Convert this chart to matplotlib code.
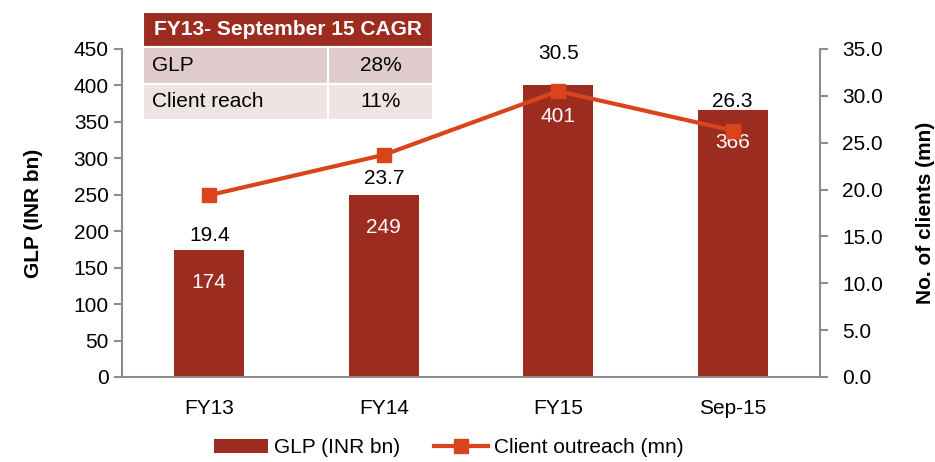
import matplotlib.pyplot as plt
from matplotlib.patches import Rectangle
from matplotlib.lines import Line2D
from matplotlib.patches import Patch

plt.rcParams['font.family'] = ['Liberation Sans Narrow', 'Liberation Sans', 'DejaVu Sans']

categories = ["FY13", "FY14", "FY15", "Sep-15"]
glp = [174, 249, 401, 366]
clients = [19.4, 23.7, 30.5, 26.3]
cagr_title = "FY13- September 15 CAGR"
cagr_rows = ["GLP", "Client reach"]
cagr_vals = ["28%", "11%"]

bar_color = "#9B2C1F"
line_color = "#D9441A"
axis_gray = "#8C8C8C"
fs = 15

fig = plt.figure(figsize=(9.35, 4.62), dpi=100)
ax = fig.add_axes([0.1305, 0.184, 0.7465, 0.710])
ax2 = ax.twinx()

x = list(range(len(categories)))
bars = ax.bar(x, glp, width=0.4, color=bar_color, zorder=2)
ax.set_xlim(-0.5, len(categories) - 0.5)
ax.set_ylim(0, 450)
ax.set_yticks(range(0, 451, 50))
ax.set_xticks(x)
ax.set_xticklabels(categories, fontsize=fs)
ax.tick_params(axis='x', length=0, pad=16)
ax.tick_params(axis='y', labelsize=fs, color=axis_gray, length=6, width=1.5)
ax.set_ylabel("GLP (INR bn)", fontsize=fs, fontweight='bold', labelpad=22)

for b, v in zip(bars, glp):
    ax.annotate(str(v), (b.get_x() + b.get_width() / 2, v), xytext=(0, -23),
                textcoords='offset points', ha='center', va='center',
                color='white', fontsize=fs)

ax2.plot(x, clients, color=line_color, lw=3, marker='s', markersize=10, zorder=3)
ax2.set_ylim(0, 35)
ax2.set_yticks([i * 5 for i in range(8)])
ax2.set_yticklabels([f"{i * 5:.1f}" for i in range(8)])
ax2.tick_params(axis='y', labelsize=fs, color=axis_gray, length=6, width=1.5, pad=10)
ax2.set_ylabel("No. of clients (mn)", fontsize=fs, fontweight='bold', labelpad=24)

offsets = [(0, -29), (0, -17), (0, 27), (0, 21)]
for xi, v, off in zip(x, clients, offsets):
    ax2.annotate(f"{v:.1f}", (xi, v), xytext=off, textcoords='offset points',
                 ha='center', va='center', fontsize=fs)

for a in (ax, ax2):
    a.spines['top'].set_visible(False)
    for s in ('left', 'right', 'bottom'):
        a.spines[s].set_color(axis_gray)
        a.spines[s].set_linewidth(1.5)
ax.spines['right'].set_visible(False)
ax2.spines['left'].set_visible(False)
ax2.spines['bottom'].set_visible(False)

# CAGR table in figure coordinates
W, H = 935, 462
def frect(x0, y0, x1, y1, color):
    fig.patches.append(Rectangle((x0 / W, 1 - y1 / H), (x1 - x0) / W, (y1 - y0) / H,
                                 transform=fig.transFigure, facecolor=color,
                                 edgecolor='white', lw=1.5, zorder=5))

tx0, tx1, tsplit = 143, 433, 328
frect(tx0 - 2, 10, tx1 + 2, 122, "#F2F2F2")
frect(tx0, 12, tx1, 47, bar_color)
fig.text((tx0 + tx1) / 2 / W, 1 - 29.5 / H, cagr_title, color='white', fontsize=fs,
         fontweight='bold', ha='center', va='center', zorder=6)
row_colors = ["#DFCBCB", "#EFE4E4"]
for i, (name, val) in enumerate(zip(cagr_rows, cagr_vals)):
    y0 = 47 + i * 36.5
    y1 = y0 + 36.5
    frect(tx0, y0, tsplit, y1, row_colors[i])
    frect(tsplit, y0, tx1, y1, row_colors[i])
    fig.text((tx0 + 9) / W, 1 - (y0 + y1) / 2 / H, name, fontsize=fs,
             ha='left', va='center', zorder=6)
    fig.text((tsplit + tx1) / 2 / W, 1 - (y0 + y1) / 2 / H, val, fontsize=fs,
             ha='center', va='center', zorder=6)

handles = [Patch(facecolor=bar_color, label="GLP (INR bn)"),
           Line2D([], [], color=line_color, lw=3, marker='s', markersize=10,
                  label="Client outreach (mn)")]
fig.legend(handles=handles, loc='lower center', bbox_to_anchor=(0.48, -0.03), ncol=2,
           frameon=False, fontsize=fs, handlelength=2.6, handletextpad=0.3, columnspacing=1.6)

fig.savefig("out.png", dpi=100)
